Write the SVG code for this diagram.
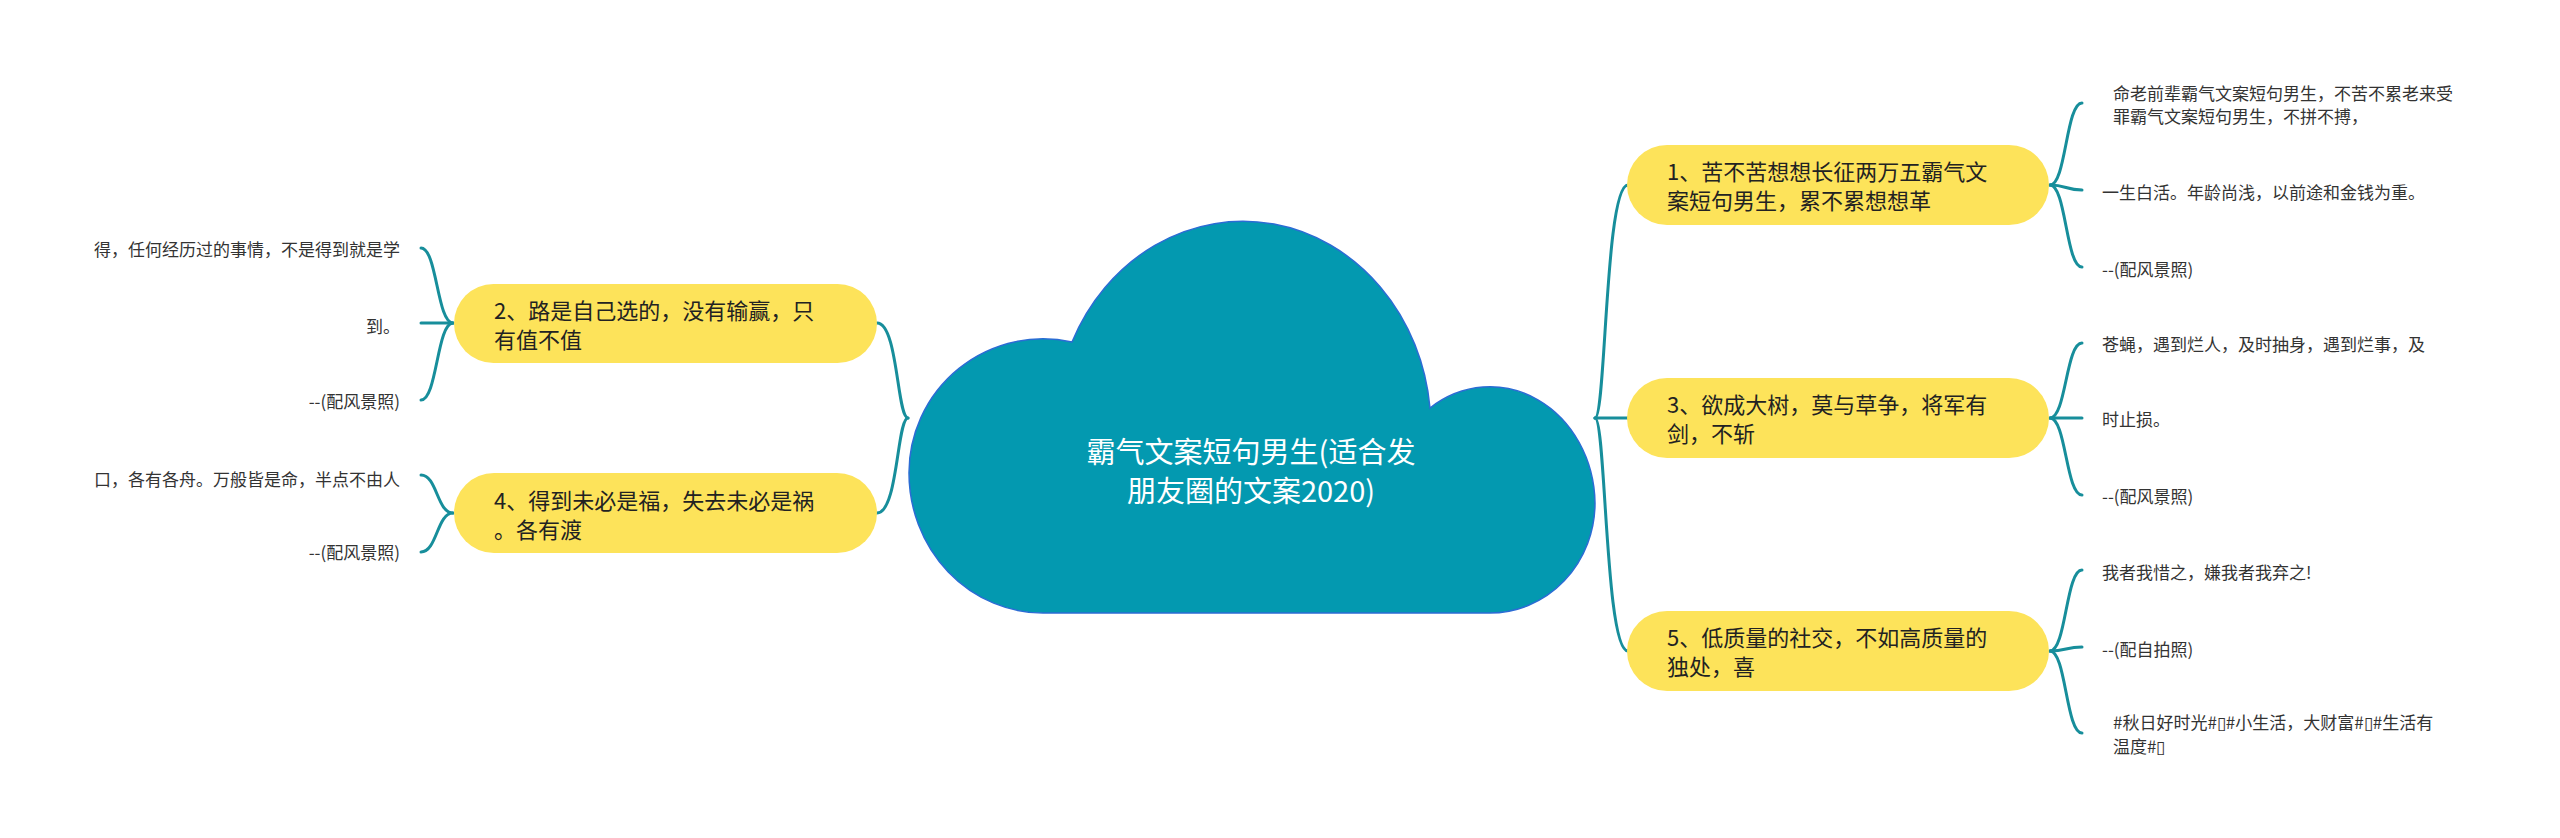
<svg xmlns="http://www.w3.org/2000/svg" width="2560" height="838" viewBox="0 0 2560 838">
<style>
.conn{fill:none;stroke:#178E9B;stroke-width:3;stroke-linecap:round}
.pill{fill:#FDE35A}
.nt{font-family:"Noto Sans CJK SC","Liberation Sans",sans-serif;font-size:22px;fill:#222}
.ct{font-family:"Noto Sans CJK SC","Liberation Sans",sans-serif;font-size:17px;fill:#333}
.lt{text-anchor:end}
.title{font-family:"Noto Sans CJK SC","Liberation Sans",sans-serif;font-size:29px;fill:#fff;text-anchor:middle}
</style>
<rect width="2560" height="838" fill="#fff"/>
<g id="connectors">
<path class="conn" d="M1595,418 C1606,418 1605,185 1628,185"/>
<path class="conn" d="M1595,418 L1628,418"/>
<path class="conn" d="M1595,418 C1606,418 1605,651 1628,651"/>
<path class="conn" d="M908,418 C897,418 898,323 877,323"/>
<path class="conn" d="M908,418 C897,418 898,513 877,513"/>
<path class="conn" d="M2050,185 C2066,185 2066,103 2082,103"/>
<path class="conn" d="M2050,185 C2066,185 2066,190 2082,190"/>
<path class="conn" d="M2050,185 C2066,185 2066,267 2082,267"/>
<path class="conn" d="M2050,418 C2066,418 2066,343 2082,343"/>
<path class="conn" d="M2050,418 C2066,418 2066,418 2082,418"/>
<path class="conn" d="M2050,418 C2066,418 2066,495 2082,495"/>
<path class="conn" d="M2050,651 C2066,651 2066,570 2082,570"/>
<path class="conn" d="M2050,651 C2066,651 2066,647 2082,647"/>
<path class="conn" d="M2050,651 C2066,651 2066,733 2082,733"/>
<path class="conn" d="M453,323 C437,323 437,248 421,248"/>
<path class="conn" d="M453,323 C437,323 437,323 421,323"/>
<path class="conn" d="M453,323 C437,323 437,400 421,400"/>
<path class="conn" d="M453,513 C437,513 437,475 421,475"/>
<path class="conn" d="M453,513 C437,513 437,552 421,552"/>
</g>
<g id="root">
<path d="M1043,613 A134,140 0 0 1 909,473 A134,134 0 0 1 1072,342 A188,207 0 0 1 1430,408 A105,118 0 0 1 1595,503 A105,110 0 0 1 1490,613 Z" fill="#0399B0" stroke="#2B6CD4" stroke-width="1.5"/>
<text class="title" x="1251" y="463">霸气文案短句男生(适合发</text>
<text class="title" x="1251" y="502">朋友圈的文案2020)</text>
</g>
<g id="node1">
<rect class="pill" x="1627" y="145" width="422" height="80" rx="40"/>
<text class="nt" x="1667" y="180">1、苦不苦想想长征两万五霸气文</text>
<text class="nt" x="1667" y="209">案短句男生，累不累想想革</text>
</g>
<g id="node3">
<rect class="pill" x="1627" y="378" width="422" height="80" rx="40"/>
<text class="nt" x="1667" y="413">3、欲成大树，莫与草争，将军有</text>
<text class="nt" x="1667" y="442">剑，不斩</text>
</g>
<g id="node5">
<rect class="pill" x="1627" y="611" width="422" height="80" rx="40"/>
<text class="nt" x="1667" y="646">5、低质量的社交，不如高质量的</text>
<text class="nt" x="1667" y="675">独处，喜</text>
</g>
<g id="node2">
<rect class="pill" x="454" y="284" width="423" height="79" rx="39.5"/>
<text class="nt" x="494" y="319">2、路是自己选的，没有输赢，只</text>
<text class="nt" x="494" y="348">有值不值</text>
</g>
<g id="node4">
<rect class="pill" x="454" y="473" width="423" height="80" rx="40"/>
<text class="nt" x="494" y="509">4、得到未必是福，失去未必是祸</text>
<text class="nt" x="494" y="538">。各有渡</text>
</g>
<g id="node1-children">
<text class="ct" x="2113" y="100">命老前辈霸气文案短句男生，不苦不累老来受</text>
<text class="ct" x="2113" y="123">罪霸气文案短句男生，不拼不搏，</text>
<text class="ct" x="2102" y="199">一生白活。年龄尚浅，以前途和金钱为重。</text>
<text class="ct" x="2102" y="276">--(配风景照)</text>
</g>
<g id="node3-children">
<text class="ct" x="2102" y="351">苍蝇，遇到烂人，及时抽身，遇到烂事，及</text>
<text class="ct" x="2102" y="426">时止损。</text>
<text class="ct" x="2102" y="503">--(配风景照)</text>
</g>
<g id="node5-children">
<text class="ct" x="2102" y="579">我者我惜之，嫌我者我弃之!</text>
<text class="ct" x="2102" y="656">--(配自拍照)</text>
<text class="ct" x="2113" y="729">#秋日好时光#▯#小生活，大财富#▯#生活有</text>
<text class="ct" x="2113" y="753">温度#▯</text>
</g>
<g id="node2-children">
<text class="ct lt" x="400" y="256">得，任何经历过的事情，不是得到就是学</text>
<text class="ct lt" x="400" y="333">到。</text>
<text class="ct lt" x="400" y="408">--(配风景照)</text>
</g>
<g id="node4-children">
<text class="ct lt" x="400" y="486">口，各有各舟。万般皆是命，半点不由人</text>
<text class="ct lt" x="400" y="559">--(配风景照)</text>
</g>
</svg>
